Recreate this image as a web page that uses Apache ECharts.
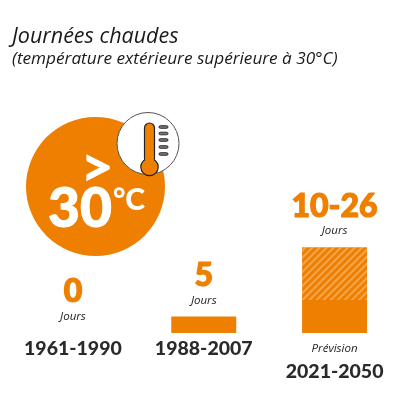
<!DOCTYPE html>
<html><head><meta charset="utf-8">
<style>html,body{margin:0;padding:0;background:#fff}#c{width:400px;height:400px}</style>
<script src="https://cdn.jsdelivr.net/npm/echarts@6/dist/echarts.min.js"></script></head>
<body><div id="c"></div>
<script>
const categories = ['1961-1990','1988-2007','2021-2050'];
const baseDays = [0,5,10];
const extraDays = [null,null,16];
const topDays = [0,5,26];
const valueLabels = ['0','5','10-26'];
const unitLabel = 'Jours';
const noteLabel = 'Prévision';
const titleText = 'Journées chaudes';
const subtitleText = '(température extérieure supérieure à 30°C)';
const ORANGE = '#EE7F00', DARK = '#2A2A2A';
const sans = '"Open Sans", sans-serif';
const heavy = 'Lato, "Open Sans", sans-serif';

const tickYs = [127,133.5,140,147,154];
const chart = echarts.init(document.getElementById('c'), null, {renderer:'canvas'});
chart.setOption({
  animation:false,
  backgroundColor:'#fff',
  title:[
    {text:titleText,left:7,top:21,textStyle:{fontFamily:sans,fontStyle:'italic',fontWeight:'normal',fontSize:21.5,color:'#1a1a1a'}},
    {text:subtitleText,left:7,top:46,textStyle:{fontFamily:sans,fontStyle:'italic',fontWeight:'normal',fontSize:17.2,color:'#1a1a1a'}}
  ],
  grid:{left:7.5,width:394,top:100,height:233,containLabel:false},
  xAxis:{type:'category',data:categories,
    axisLine:{show:false},axisTick:{show:false},
    axisLabel:{margin:4,interval:0,verticalAlign:'top',
      formatter:(v,i)=> i===2 ? `{note|${noteLabel}}\n{year|${v}}` : `{year|${v}}`,
      rich:{
        year:{fontFamily:heavy,fontWeight:900,fontSize:19.5,color:DARK,lineHeight:23},
        note:{fontFamily:sans,fontStyle:'italic',fontSize:11.5,color:'#222',lineHeight:23}
      }}},
  yAxis:{type:'value',min:0,max:70.6,show:false,splitLine:{show:false}},
  series:[
    {type:'bar',stack:'d',data:baseDays,barWidth:65,itemStyle:{color:ORANGE}},
    {type:'bar',stack:'d',data:extraDays,barWidth:65,
      itemStyle:{color:ORANGE,decal:{symbol:'rect',color:'rgba(255,255,255,0.3)',dashArrayX:[1,0],dashArrayY:[1.6,3],rotation:-Math.PI/4}}},
    {type:'scatter',data:topDays,symbolSize:0,silent:true,itemStyle:{opacity:1},
      label:{show:true,position:'top',distance:6,opacity:1,
        formatter:p=>`{v|${valueLabels[p.dataIndex]}}\n{u|${unitLabel}}`,
        rich:{
          v:{fontFamily:heavy,fontWeight:900,fontSize:32,color:ORANGE,lineHeight:30,align:'center',textBorderColor:ORANGE,textBorderWidth:1.2},
          u:{fontFamily:sans,fontStyle:'italic',fontSize:11.5,color:'#222',lineHeight:20,align:'center'}
        }}}
  ],
  graphic:[
    {type:'circle',shape:{cx:95.5,cy:186.5,r:69.5},style:{fill:ORANGE}},
    {type:'text',x:97,y:168,style:{text:'>',fontFamily:heavy,fontWeight:900,fontSize:58,fill:'#fff',align:'center',verticalAlign:'middle'}},
    {type:'text',x:80,y:209,style:{text:'30',fontFamily:heavy,fontWeight:900,fontSize:55,fill:'#fff',stroke:'#fff',lineWidth:1,align:'center',verticalAlign:'middle'}},
    {type:'text',x:129,y:200,style:{text:'°C',fontFamily:heavy,fontWeight:900,fontSize:30,fill:'#fff',align:'center',verticalAlign:'middle'}},
    {type:'circle',shape:{cx:148,cy:143.5,r:31},style:{fill:'#fff',stroke:'#555',lineWidth:1}},
    {type:'rect',shape:{x:144.5,y:123,width:10,height:40,r:5},style:{fill:ORANGE,stroke:'#222',lineWidth:1.2}},
    {type:'circle',shape:{cx:149.5,cy:167,r:8.7},style:{fill:ORANGE,stroke:'#222',lineWidth:1.2}},
    {type:'rect',shape:{x:145.2,y:155,width:8.6,height:12},style:{fill:ORANGE}},
    ...tickYs.map(y=>({type:'rect',shape:{x:159,y:y-1.3,width:9,height:2.6,r:1.3},style:{fill:'#777',stroke:'#222',lineWidth:.9}}))
  ]
});
</script></body></html>
